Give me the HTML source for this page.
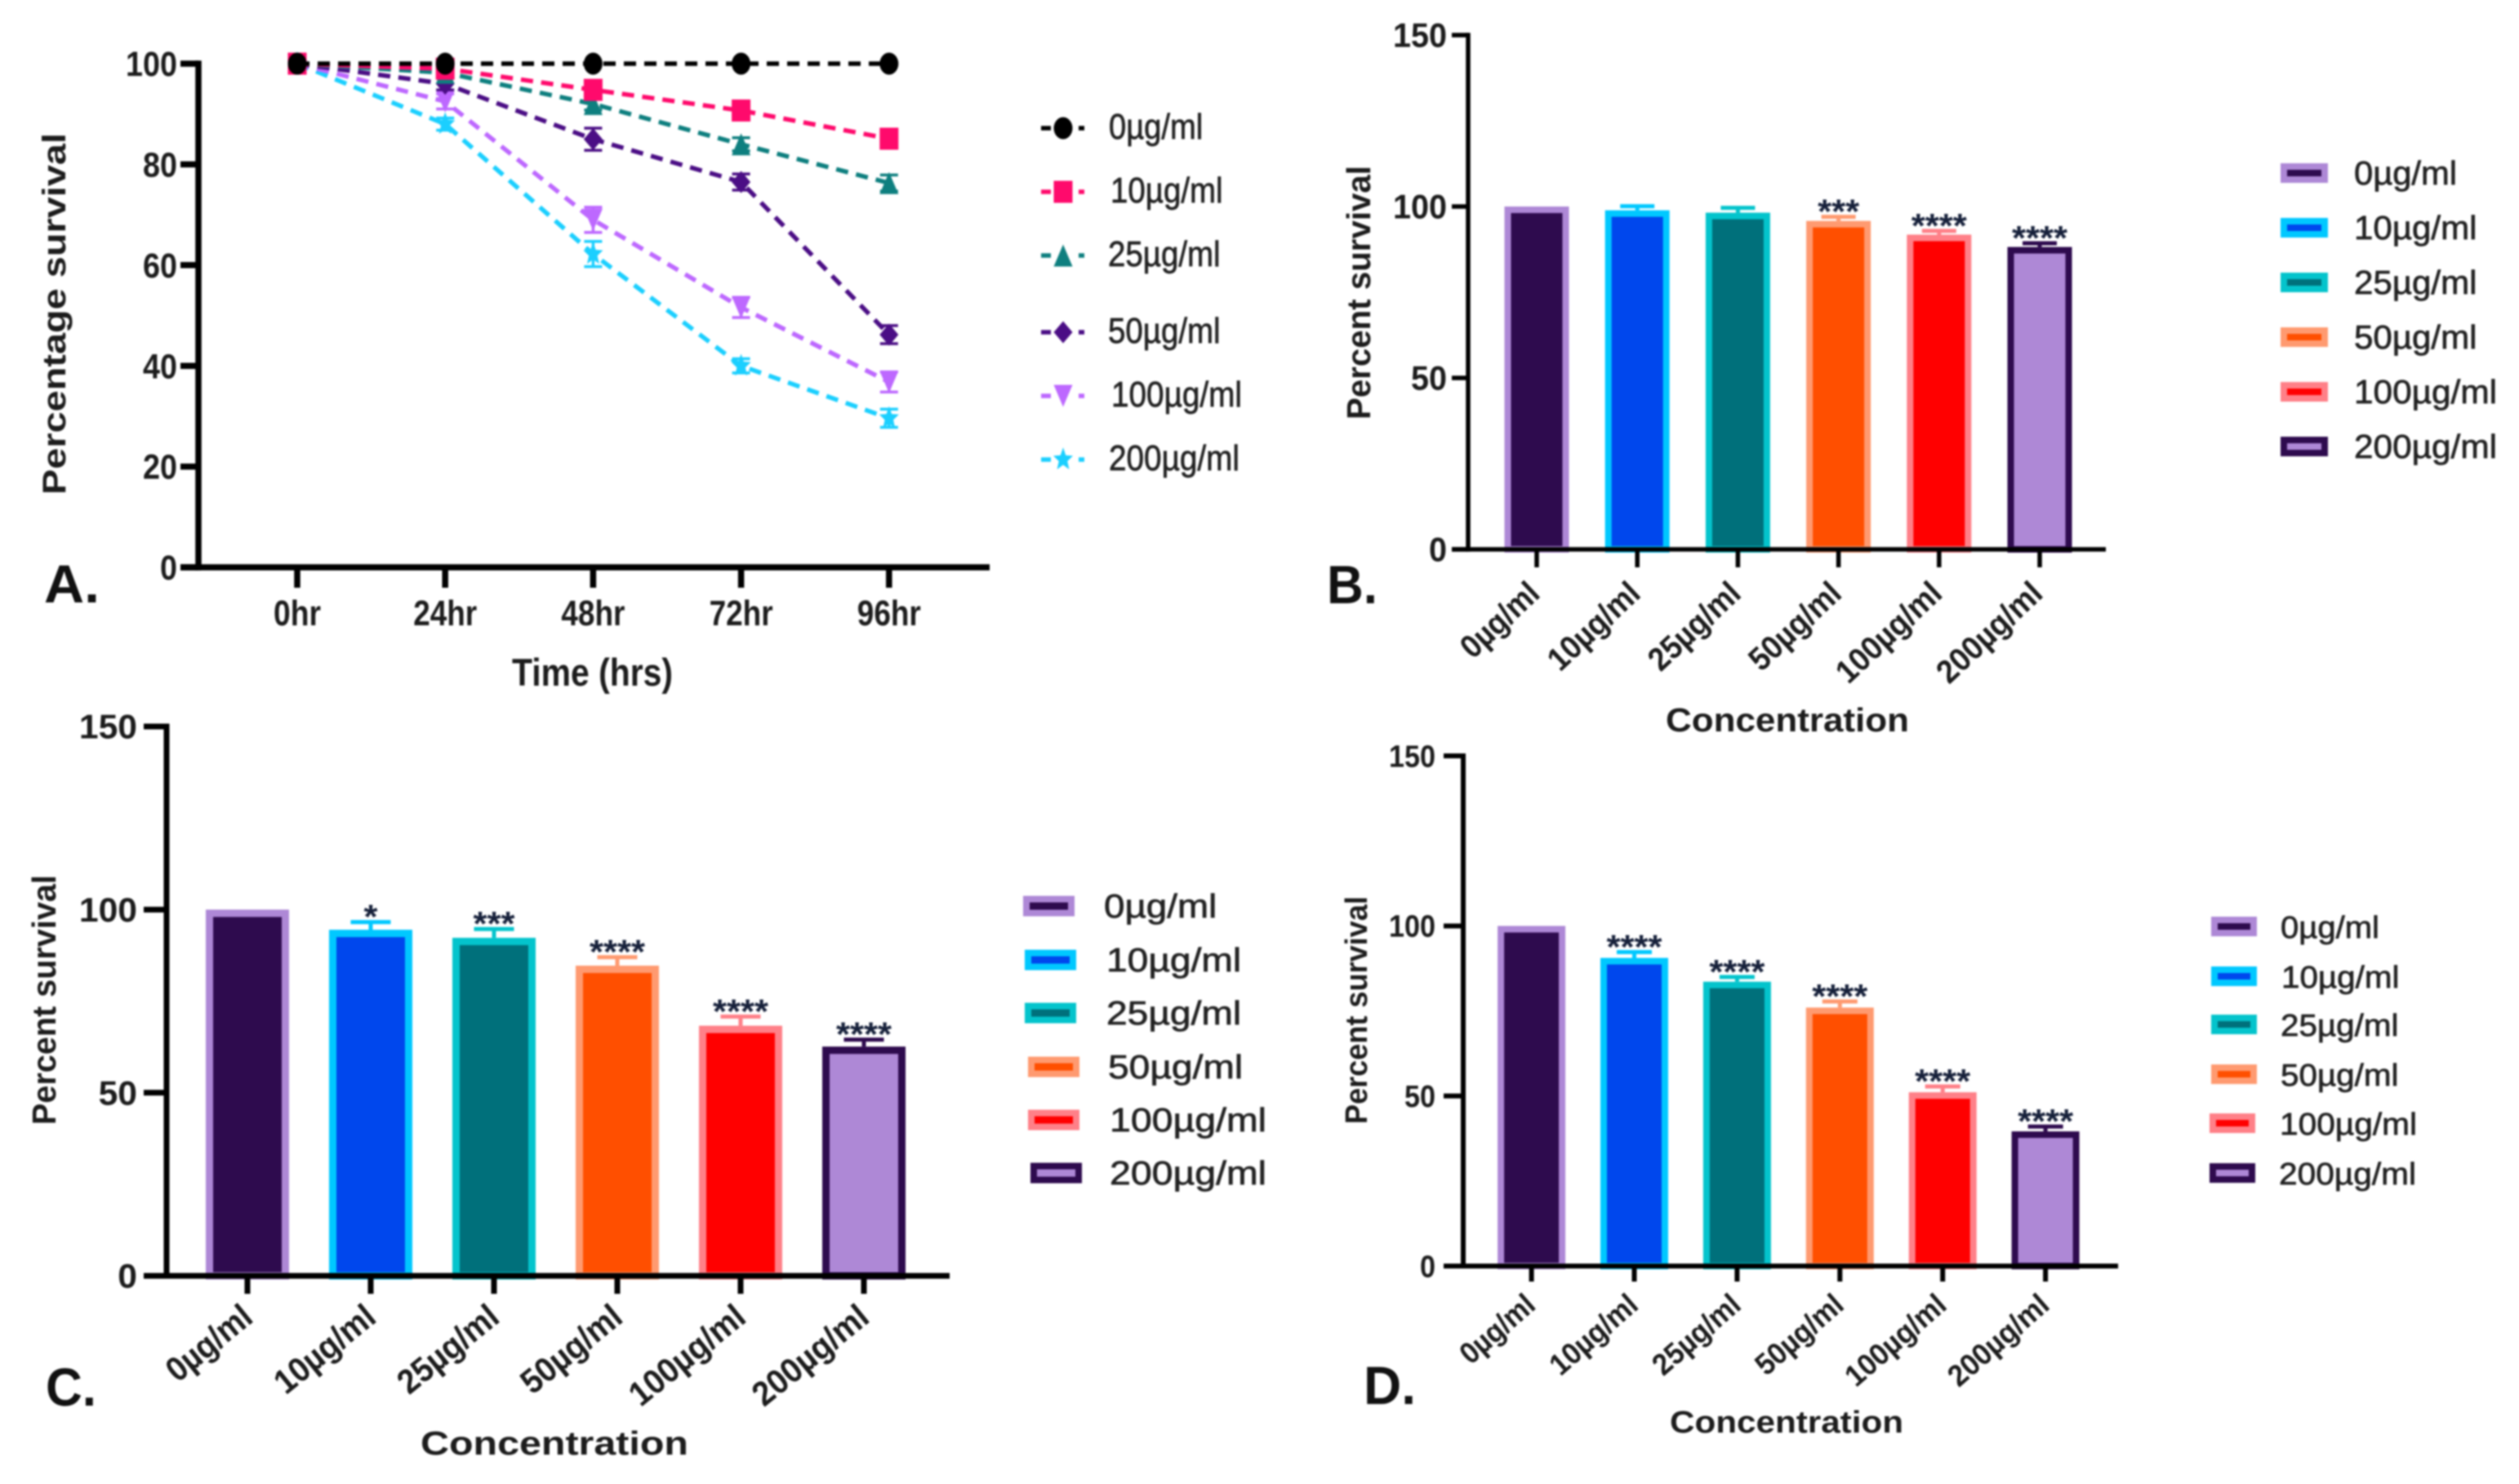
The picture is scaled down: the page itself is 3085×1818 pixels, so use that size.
<!DOCTYPE html>
<html lang="en">
<head>
<meta charset="utf-8">
<title>Percentage survival charts</title>
<style>
html,body{margin:0;padding:0;background:#fff;}
#figure{display:block;width:3085px;height:1818px;filter:blur(1.1px);font-family:"Liberation Sans",sans-serif;}
.title{font-weight:bold;fill:#1c1c1c;}
.panel-letter{font-weight:bold;fill:#111;}
</style>
</head>
<body>
<svg id="figure" xmlns="http://www.w3.org/2000/svg" width="3085" height="1818" viewBox="0 0 3085 1818">
  <rect width="3085" height="1818" fill="#ffffff"/>

  <text class="panel-letter" x="54" y="738" font-size="66" textLength="68" lengthAdjust="spacingAndGlyphs">A.</text>
  <text class="panel-letter" x="1625" y="739" font-size="66" textLength="62" lengthAdjust="spacingAndGlyphs">B.</text>
  <text class="panel-letter" x="56" y="1722" font-size="66" textLength="62" lengthAdjust="spacingAndGlyphs">C.</text>
  <text class="panel-letter" x="1670" y="1720" font-size="66" textLength="64" lengthAdjust="spacingAndGlyphs">D.</text>

  <text class="title" transform="translate(80,606) rotate(-90)" font-size="40" textLength="443" lengthAdjust="spacingAndGlyphs">Percentage survival</text>
  <text class="title" x="627" y="840" font-size="47" textLength="197" lengthAdjust="spacingAndGlyphs">Time (hrs)</text>

  <text class="title" transform="translate(1678,514) rotate(-90)" font-size="41" textLength="311" lengthAdjust="spacingAndGlyphs">Percent survival</text>
  <text class="title" x="2040" y="896" font-size="41" textLength="298" lengthAdjust="spacingAndGlyphs">Concentration</text>

  <text class="title" transform="translate(68,1378) rotate(-90)" font-size="41" textLength="306" lengthAdjust="spacingAndGlyphs">Percent survival</text>
  <text class="title" x="515" y="1782" font-size="41" textLength="328" lengthAdjust="spacingAndGlyphs">Concentration</text>

  <text class="title" transform="translate(1674,1377) rotate(-90)" font-size="38" textLength="279" lengthAdjust="spacingAndGlyphs">Percent survival</text>
  <text class="title" x="2045" y="1755" font-size="38" textLength="286" lengthAdjust="spacingAndGlyphs">Concentration</text>

  <g id="marks"></g>
</svg>

<script>
// ---------- data ----------
const concentrations = ["0µg/ml", "10µg/ml", "25µg/ml", "50µg/ml", "100µg/ml", "200µg/ml"];

// Panel A: survival over time
const timeLabels = ["0hr", "24hr", "48hr", "72hr", "96hr"];
const panelAYTicks = [0, 20, 40, 60, 80, 100];
const survival0 = [100, 100, 100, 100, 100];
const survival10 = [100, 99, 94.8, 90.7, 85.1];
const survival25 = [100, 98.2, 92, 84, 76.3];
const survival50 = [100, 96, 85, 76.5, 46.2];
const survival100 = [100, 92.5, 69, 51.6, 36.8];
const survival200 = [100, 88, 62.2, 40, 29.6];
const error0 = [0, 0, 0, 0, 0];
const error10 = [0, 1, 1, 1, 1];
const error25 = [0, 1, 1.2, 1.3, 1.6];
const error50 = [0, 1.2, 2.2, 1.6, 1.8];
const error100 = [0, 1.5, 2.5, 2, 2];
const error200 = [0, 1.2, 2.5, 1.4, 1.8];

// Panels B, C, D: survival at a time point
const barYTicks = [0, 50, 100, 150];
const panelBValues = [100, 98.9, 98.2, 95.8, 91.8, 88.2];
const panelBErrorTops = [100, 100.1, 99.6, 97, 92.9, 89.3];
const panelBStars = ["", "", "", "***", "****", "****"];
const panelCValues = [100, 94.5, 92.3, 84.7, 68.3, 62.6];
const panelCErrorTops = [100, 96.6, 94.7, 87, 70.8, 64.5];
const panelCStars = ["", "*", "***", "****", "****", "****"];
const panelDValues = [100, 90.6, 83.6, 76, 51.1, 39.6];
const panelDErrorTops = [100, 92.3, 85, 77.8, 52.8, 41];
const panelDStars = ["", "****", "****", "****", "****", "****"];

// ---------- styling ----------
const lineColors = ["#000000", "#ff0a6c", "#0e7f7f", "#4b0e85", "#bd68ff", "#1bcfff"];
const lineShapes = ["circle", "square", "triangle", "diamond", "inverted", "star"];
const barFills = ["#2e0b4e", "#0047ed", "#00707b", "#ff4f00", "#ff0000", "#ae88d6"];
const barBorders = ["#ae88d6", "#00c8ff", "#04c4cc", "#ff9a70", "#ff8088", "#2e0b4e"];
const labelWidthRatios = [0.72, 0.86, 0.86, 0.86, 1, 1];

const NS = "http://www.w3.org/2000/svg";
const marks = document.getElementById("marks");

function make(tag, attrs, parent) {
  const node = document.createElementNS(NS, tag);
  for (const key in attrs) node.setAttribute(key, attrs[key]);
  (parent || marks).appendChild(node);
  return node;
}

function makeScaleY(frame) {
  return function (v) {
    return frame.y0 - (v / frame.yMax) * (frame.y0 - frame.yTop);
  };
}
function makeScaleX(frame) {
  return function (i) {
    return frame.x1 + i * frame.step;
  };
}

function drawAxes(frame, key, yTicks, xCount, scaleX, scaleY) {
  const g = make("g", {});
  
  

  const yAxis = make("line", { x1: frame.xAxis, x2: frame.xAxis, y1: frame.yTop - frame.lw / 2, y2: frame.y0 + frame.lw / 2, stroke: "#000", "stroke-width": frame.lw }, g);
  
  

  const xAxis = make("line", { x1: frame.xAxis - frame.tickY, x2: frame.xEnd, y1: frame.y0, y2: frame.y0, stroke: "#000", "stroke-width": frame.lw }, g);
  
  

  yTicks.forEach(function (v) {
    const y = scaleY(v);
    const tick = make("line", { x1: frame.xAxis - frame.tickY, x2: frame.xAxis, y1: y, y2: y, stroke: "#000", "stroke-width": frame.lw }, g);
    
    

    const text = String(v);
    const label = make("text", { x: frame.yLabelX, y: y + frame.yFont * 0.35, "font-size": frame.yFont, "font-weight": "bold", "text-anchor": "end", fill: "#1c1c1c", textLength: text.length * frame.yCharW, lengthAdjust: "spacingAndGlyphs" }, g);
    
    
    label.textContent = text;
  });

  for (let i = 0; i < xCount; i++) {
    const x = scaleX(i);
    const tick = make("line", { x1: x, x2: x, y1: frame.y0, y2: frame.y0 + frame.tickX, stroke: "#000", "stroke-width": frame.lw }, g);
    
    
  }
}

function drawMarker(shape, cx, cy, color, parent) {
  const rx = 11.5, ry = 13.5;
  let node;
  if (shape === "circle") {
    node = make("ellipse", { cx: cx, cy: cy, rx: rx, ry: ry, fill: color }, parent);
  } else if (shape === "square") {
    node = make("rect", { x: cx - rx, y: cy - ry, width: rx * 2, height: ry * 2, fill: color }, parent);
  } else {
    let unit = [];
    if (shape === "triangle") unit = [[0, -1], [1, 1], [-1, 1]];
    if (shape === "inverted") unit = [[-1, -1], [1, -1], [0, 1]];
    if (shape === "diamond") unit = [[0, -1], [1, 0], [0, 1], [-1, 0]];
    if (shape === "star") {
      for (let k = 0; k < 10; k++) {
        const r = k % 2 === 0 ? 1.1 : 0.48;
        const a = -Math.PI / 2 + (k * Math.PI) / 5;
        unit.push([r * Math.cos(a), r * Math.sin(a)]);
      }
    }
    const pts = unit.map(function (p) { return (cx + p[0] * rx) + "," + (cy + p[1] * ry); }).join(" ");
    node = make("polygon", { points: pts, fill: color }, parent);
  }
  return node;
}

function drawLegendText(text, x, baseline, width, fontSize, parent) {
  const node = make("text", { x: x, y: baseline, "font-size": fontSize, fill: "#222", stroke: "#222", "stroke-width": 0.7, textLength: width, lengthAdjust: "spacingAndGlyphs" }, parent);
  node.textContent = text;
  return node;
}

// ---------- Panel A ----------
const frameA = { xAxis: 243, xEnd: 1212, x1: 364, step: 181.2, y0: 695, yTop: 78, yMax: 100, lw: 7.5, tickY: 22, tickX: 25, yLabelX: 217, yFont: 43, yCharW: 21 };
const scaleAX = makeScaleX(frameA);
const scaleAY = makeScaleY(frameA);
drawAxes(frameA, "panel-a", panelAYTicks, timeLabels.length, scaleAX, scaleAY);

timeLabels.forEach(function (label, i) {
  const t = make("text", { x: scaleAX(i), y: 766, "font-size": 44, "font-weight": "bold", "text-anchor": "middle", fill: "#1c1c1c", textLength: label.length === 3 ? 58 : 78, lengthAdjust: "spacingAndGlyphs" });
  
  
  t.textContent = label;
});

const survivalSeries = [survival0, survival10, survival25, survival50, survival100, survival200];
const errorSeries = [error0, error10, error25, error50, error100, error200];

for (let s = survivalSeries.length - 1; s >= 0; s--) {
  const color = lineColors[s];
  const group = make("g", {});
  
  

  const pts = survivalSeries[s].map(function (v, i) { return scaleAX(i) + "," + scaleAY(v); }).join(" ");
  const poly = make("polyline", { points: pts, fill: "none", stroke: color, "stroke-width": 5.5, "stroke-dasharray": "15 10" }, group);
  
  

  survivalSeries[s].forEach(function (v, i) {
    const x = scaleAX(i);
    const e = errorSeries[s][i];
    if (e > 0) {
      const hi = scaleAY(v + e), lo = scaleAY(v - e);
      const eb = make("path", { d: "M" + (x - 11) + " " + hi + "H" + (x + 11) + "M" + x + " " + hi + "V" + lo + "M" + (x - 11) + " " + lo + "H" + (x + 11), fill: "none", stroke: color, "stroke-width": 3.5 }, group);
      
      
    }
    const m = drawMarker(lineShapes[s], x, scaleAY(v), color, group);
    
    
  });
}

const legendA = { lineX1: 1275, lineX2: 1328, markerX: 1302, textX: [1358, 1360, 1357, 1357, 1361, 1358], rowY: [157, 235, 313, 407, 485, 563], width: 160, font: 44 };
concentrations.forEach(function (label, i) {
  const y = legendA.rowY[i];
  const entry = make("g", {});
  
  

  const sample = make("line", { x1: legendA.lineX1, x2: legendA.lineX2, y1: y, y2: y, stroke: lineColors[i], "stroke-width": 5.5, "stroke-dasharray": "12 34 7" }, entry);
  
  

  const m = drawMarker(lineShapes[i], legendA.markerX, y, lineColors[i], entry);
  
  

  const t = drawLegendText(label, legendA.textX[i], y + 13, legendA.width * labelWidthRatios[i], legendA.font, entry);
  
  
});

// ---------- Panels B, C, D ----------
function drawBarPanel(frame, key, values, errorTops, stars, legend) {
  const scaleX = makeScaleX(frame);
  const scaleY = makeScaleY(frame);
  const bw = frame.border;

  values.forEach(function (v, i) {
    const x = scaleX(i);
    const top = scaleY(v);
    const errTop = scaleY(errorTops[i]);

    if (errorTops[i] > v) {
      const eb = make("path", { d: "M" + (x - frame.cap / 2) + " " + errTop + "H" + (x + frame.cap / 2) + "M" + x + " " + errTop + "V" + top, fill: "none", stroke: barBorders[i], "stroke-width": 5 });
      
      
    }

    const bar = make("rect", { x: x - frame.barW / 2 + bw / 2, y: top + bw / 2, width: frame.barW - bw, height: Math.max(frame.y0 - top - bw / 2, 0), fill: barFills[i], stroke: barBorders[i], "stroke-width": bw });
    
    

    if (stars[i]) {
      const st = make("text", { x: x, y: errTop + 8, "font-size": 42, "font-weight": "bold", "text-anchor": "middle", fill: "#16203a", textLength: stars[i].length * 17, lengthAdjust: "spacingAndGlyphs" });
      
      
      st.textContent = stars[i];
    }

    const lab = make("text", { transform: "translate(" + (x + frame.labelDx) + "," + (frame.y0 + frame.labelDy) + ") rotate(" + (-frame.labelAngle) + ")", "font-size": frame.labelFont, "font-weight": "bold", "text-anchor": "end", fill: "#1c1c1c", textLength: frame.labelLen * labelWidthRatios[i], lengthAdjust: "spacingAndGlyphs" });
    
    
    lab.textContent = concentrations[i];

    const y = legend.rowY[i];
    const entry = make("g", {});
    
    

    const sw = make("rect", { x: legend.swatchX[i] + 4, y: y - legend.swatchH / 2 + 4, width: legend.swatchW - 8, height: legend.swatchH - 8, fill: barFills[i], stroke: barBorders[i], "stroke-width": 8 }, entry);
    
    

    const t = drawLegendText(concentrations[i], legend.textX[i], y + 14, legend.width * labelWidthRatios[i], legend.font, entry);
    
    
  });

  drawAxes(frame, key, barYTicks, values.length, scaleX, scaleY);
}

drawBarPanel(
  { xAxis: 1798, xEnd: 2579, x1: 1882, step: 123.2, y0: 673, yTop: 43, yMax: 150, lw: 5.5, tickY: 20, tickX: 22, yLabelX: 1772, yFont: 42, yCharW: 22, barW: 79, border: 8, cap: 42, labelDx: 6, labelDy: 57, labelAngle: 43, labelLen: 160, labelFont: 40 },
  "panel-b", panelBValues, panelBErrorTops, panelBStars,
  { swatchX: [2793, 2793, 2793, 2793, 2793, 2793], swatchW: 58, swatchH: 24, textX: [2883, 2883, 2883, 2883, 2883, 2883], rowY: [212, 279, 346, 413, 480, 547], width: 175, font: 41 }
);

drawBarPanel(
  { xAxis: 204, xEnd: 1163, x1: 303, step: 151, y0: 1563, yTop: 890, yMax: 150, lw: 7, tickY: 28, tickX: 22, yLabelX: 168, yFont: 42, yCharW: 23.7, barW: 102, border: 9, cap: 49, labelDx: 9, labelDy: 55, labelAngle: 39, labelLen: 169, labelFont: 42 },
  "panel-c", panelCValues, panelCErrorTops, panelCStars,
  { swatchX: [1253, 1255, 1255, 1259, 1259, 1262], swatchW: 63, swatchH: 25, textX: [1352, 1355, 1355, 1357, 1359, 1359], rowY: [1110, 1176, 1241, 1307, 1372, 1437], width: 192, font: 41 }
);

drawBarPanel(
  { xAxis: 1792, xEnd: 2594, x1: 1875.6, step: 125.9, y0: 1551, yTop: 926, yMax: 150, lw: 6, tickY: 24, tickX: 19, yLabelX: 1758, yFont: 38, yCharW: 19, barW: 83, border: 8, cap: 43, labelDx: 7, labelDy: 51, labelAngle: 41, labelLen: 150, labelFont: 37 },
  "panel-d", panelDValues, panelDErrorTops, panelDStars,
  { swatchX: [2708, 2708, 2708, 2708, 2706, 2706], swatchW: 56, swatchH: 24, textX: [2793, 2794, 2793, 2793, 2792, 2791], rowY: [1135, 1196, 1255, 1316, 1376, 1437], width: 168, font: 38 }
);
</script>
</body>
</html>
